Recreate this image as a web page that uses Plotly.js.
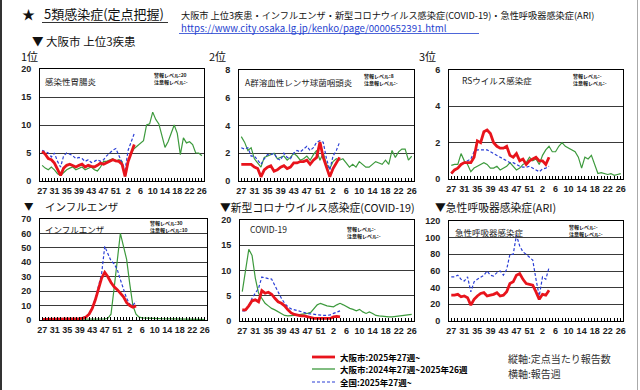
<!DOCTYPE html>
<html><head><meta charset="utf-8">
<script src="https://cdn.plot.ly/plotly-3.0.1.min.js"></script>
<style>html,body{margin:0;padding:0;background:#fff}#chart{width:640px;height:390px}</style>
</head><body><div id="chart"></div>
<script>
// ---- categories ----
const weeks = ['27','28','29','30','31','32','33','34','35','36','37','38','39','40','41','42','43','44','45','46','47','48','49','50','51','52','53',
               '1','2','3','4','5','6','7','8','9','10','11','12','13','14','15','16','17','18','19','20','21','22','23','24','25','26'];
const tickLabels = ['27','31','35','39','43','47','51','2','6','10','14','18','22','26'];

// ---- 1位 感染性胃腸炎 ----
const gastroOsaka2025 = [5.3,4.8,4.0,3.8,3.2, 2.0,1.0,2.3,2.8,3.0, 2.8,2.5,2.8,3.0,2.5, 2.8,2.6,2.5,2.8,3.2, 3.0,3.3,3.5,3.8,3.6, 3.5,3.0,0.8,3.5,5.0, 6.5];
const gastroOsaka2024 = [2.8,2.3,2.0,2.5,2.0, 1.3,1.0,1.5,2.0,2.3, 2.5,2.0,2.3,2.5,2.0, 2.2,2.5,2.0,1.8,2.5, 3.5,3.5,3.8,4.0,3.5, 3.8,3.5,0.8,3.5,5.0, 5.8,6.3,6.8,7.2,10.0, 10.2,12.3,11.0,10.2,8.0, 6.0,7.0,8.5,10.0,8.5, 4.7,7.7,6.8,7.0,6.5, 5.0,5.0,4.5];
const gastroJapan2025 = [5.5,5.3,5.0,4.3,5.0, 3.5,2.5,4.5,5.0,4.8, 4.5,4.0,4.2,4.0,3.5, 3.8,3.3,3.5,3.8,3.5, 3.8,4.5,5.0,5.5,5.8, 4.5,3.5,2.0,5.5,7.0, 8.5];

// ---- 2位 A群溶血性レンサ球菌咽頭炎 ----
const strepOsaka2025 = [1.2,1.2,1.2,1.2,1.0, 0.9,0.3,0.8,1.0,1.1, 0.7,0.8,1.0,1.1,0.9, 1.0,1.3,1.3,1.4,1.4, 1.5,1.2,1.5,1.7,2.8, 1.7,1.0,0.3,0.9,1.3, 1.7];
const strepOsaka2024 = [3.2,2.8,2.2,2.4,1.6, 1.3,1.0,1.7,1.8,1.9, 2.0,1.6,1.7,1.8,1.5, 1.7,2.0,1.8,1.5,1.6, 1.8,1.5,1.9,2.2,1.5, 2.0,1.2,0.9,1.4,1.6, 1.5,1.6,1.3,1.0,1.2, 1.0,1.4,1.2,1.0,1.0, 1.2,1.4,1.3,1.2,1.5, 1.2,2.2,1.7,2.1,2.3, 2.3,1.5,1.8];
const strepJapan2025 = [2.4,2.3,2.4,1.8,1.8, 1.5,1.2,1.6,1.9,1.9, 2.0,1.6,1.5,2.0,1.7, 1.6,2.0,2.2,2.1,2.3, 2.5,2.2,2.4,2.8,2.9, 2.8,1.6,0.8,1.8,2.2, 2.8];

// ---- 3位 RSウイルス感染症 ----
const rsOsaka2025 = [0.3,0.5,0.6,0.8,0.9, 0.9,0.9,1.2,2.1,2.0, 2.6,2.7,2.5,2.0,1.8, 1.7,1.7,1.8,1.3,1.2, 1.4,1.0,1.1,0.8,1.0, 1.1,1.2,1.0,1.0,0.8, 1.2];
const rsOsaka2024 = [0.75,0.8,0.8,1.4,1.0, 0.8,0.4,0.6,0.7,0.8, 0.9,0.8,0.6,0.6,0.7, 0.5,0.6,0.7,0.9,0.7, 0.5,0.6,0.8,0.9,1.2, 1.0,1.1,0.8,1.3,1.6, 1.8,1.5,1.5,1.8,2.0, 1.8,1.7,1.6,1.5,1.2, 0.6,1.2,1.1,1.3,0.8, 0.3,0.35,0.3,0.25,0.3, 0.2,0.25,0.3];
const rsJapan2025 = [0.3,0.5,0.6,0.8,0.9, 1.0,1.1,1.5,1.6,1.6, 1.6,1.6,1.5,1.4,1.3, 1.2,1.1,1.0,0.9,0.9, 0.8,0.7,0.65,0.65,0.7, 0.6,0.5,0.4,0.55,0.6, 0.7];

// ---- インフルエンザ ----
const fluOsaka2025 = [0.5,0.5,0.5,0.5,0.5, 0.5,0.5,0.5,0.6,0.6, 0.7,0.8,1.0,1.3,2.0, 4.0,8.0,14.0,22.0,29.0, 33.0,30.0,26.0,23.0,21.0, 18.5,16.0,12.0,10.0,8.8, 9.8];
const fluOsaka2024 = [0.3,0.3,0.3,0.3,0.3, 0.3,0.3,0.3,0.3,0.3, 0.3,0.3,0.3,0.3,0.3, 0.4,0.4,0.5,0.5,0.6, 0.8,1.2,4.0,22.0,42.0, 60.0,51.0,42.0,25.0,10.0, 4.0,2.0,1.5,1.3,1.2, 1.1,1.0,1.0,0.9,0.9, 0.8,0.8,0.7,0.7,0.6, 0.6,0.5,0.5,0.5,0.4, 0.4,0.4,0.3];
const fluJapan2025 = [0.5,0.5,0.5,0.5,0.5, 0.5,0.5,0.6,0.6,0.7, 0.8,0.9,1.1,1.5,2.3, 4.5,8.5,15.0,23.0,32.0, 51.0,46.0,41.0,39.0,35.0, 28.0,21.0,15.0,11.0,10.0, 13.0];

// ---- 新型コロナウイルス感染症(COVID-19) ----
const covidOsaka2025 = [2.2,2.2,3.0,4.0,4.2, 3.8,6.0,5.5,5.7,5.3, 4.5,3.8,3.5,3.0,2.2, 1.6,1.3,1.1,1.0,1.0, 0.8,0.6,0.5,0.5,0.5, 0.5,0.6,0.5,0.8,0.9, 0.8];
const covidOsaka2024 = [5.8,10.0,14.2,13.0,8.5, 5.5,4.5,3.5,3.0,2.5, 2.2,1.8,1.4,1.1,1.0, 1.0,1.1,1.2,1.3,1.3, 1.5,1.7,2.5,3.2,3.5, 3.2,3.0,2.9,2.8,3.2, 3.5,3.2,2.8,2.5,2.3, 2.0,2.3,1.8,1.5,1.8, 1.5,1.1,1.0,0.9,0.8, 0.8,0.8,0.9,1.0,1.0, 1.1,1.2,1.3];
const covidJapan2025 = [2.0,2.0,3.0,4.5,5.5, 6.5,8.7,8.5,8.4,8.3, 7.0,5.5,4.5,3.5,2.8, 2.4,2.2,2.0,1.8,1.6, 1.5,1.4,1.3,1.3,1.2, 1.1,1.1,1.2,1.5,1.7, 2.0];

// ---- 急性呼吸器感染症(ARI) ----
const ariOsaka2025 = [31,31,32,29,30, 28,19,26,30,33, 34,30,31,32,34, 30,31,35,45,47, 55,57,50,45,44, 43,35,26,32,31, 37];
const ariJapan2025 = [53,53,55,50,48, 53,35,47,50,52, 55,60,55,54,58, 60,55,62,80,80, 103,90,83,80,76, 73,50,30,53,50, 64];

// ---- texts ----
const panelNames = ['感染性胃腸炎','A群溶血性レンサ球菌咽頭炎','RSウイルス感染症','インフルエンザ','COVID-19','急性呼吸器感染症'];
const alertTexts = ['警報レベル:20<br>注意報レベル:-','警報レベル:8<br>注意報レベル:-','警報レベル:-<br>注意報レベル:-',
                    '警報レベル:30<br>注意報レベル:10','警報レベル:-<br>注意報レベル:-','警報レベル:-<br>注意報レベル:-'];
const legendNames = ['大阪市:2025年27週~','大阪市:2024年27週~2025年26週','全国:2025年27週~'];

// ---- layout helpers ----
const W = 640, H = 390;
const px = x => x / W, py = y => 1 - y / H;
const JP = '"Noto Sans CJK JP", "Noto Sans", sans-serif';
const NUM = '"Liberation Sans", Arial, sans-serif';
const RED = '#e8141c', GREEN = '#3d9a3d', BLUE = '#2b3fd6';

const panels = [
  {box:[40,69,204,181],  ymax:20,  dtick:5,  red:gastroOsaka2025, green:gastroOsaka2024, blue:gastroJapan2025, name:[43,81], alert:[152,79]},
  {box:[239,70,414,181], ymax:8,   dtick:2,  red:strepOsaka2025,  green:strepOsaka2024,  blue:strepJapan2025,  name:[243,82], alert:[362,80]},
  {box:[449,70,623,179], ymax:6,   dtick:2,  red:rsOsaka2025,     green:rsOsaka2024,     blue:rsJapan2025,     name:[460,80], alert:[571,80]},
  {box:[40,219,207,320], ymax:70,  dtick:10, red:fluOsaka2025,    green:fluOsaka2024,    blue:fluJapan2025,    name:[43,229], alert:[148,226]},
  {box:[240,220,414,321],ymax:20,  dtick:5,  red:covidOsaka2025,  green:covidOsaka2024,  blue:covidJapan2025,  name:[248,229], alert:[345,232]},
  {box:[449,221,623,321],ymax:120, dtick:20, red:ariOsaka2025,    green:null,            blue:ariJapan2025,    name:[453,232], alert:[567,230]}
];

const layout = {
  width: W, height: H, autosize: false,
  margin: {l:0, r:0, t:0, b:0, pad:0},
  paper_bgcolor: '#fff', plot_bgcolor: '#fff',
  showlegend: false,
  annotations: [], shapes: []
};
const traces = [];
const tickText = weeks.map(w => tickLabels.includes(w) ? w : '');

panels.forEach((p, i) => {
  const n = i + 1;
  const xa = 'xaxis' + (n === 1 ? '' : n), ya = 'yaxis' + (n === 1 ? '' : n);
  const xr = 'x' + (n === 1 ? '' : n), yr = 'y' + (n === 1 ? '' : n);
  const [x0, y0, x1, y1] = p.box;
  layout[xa] = {
    domain: [px(x0), px(x1)], anchor: yr, type: 'category',
    categoryorder: 'array', categoryarray: weeks, range: [-0.7, 52.7],
    tickmode: 'array', tickvals: weeks, ticktext: tickText,
    ticks: 'inside', ticklen: 3, tickwidth: 1, tickcolor: '#000',
    showline: true, linecolor: '#000', linewidth: 1, mirror: true,
    showgrid: false, zeroline: false, fixedrange: true, ticklabelstandoff: 1,
    tickfont: {family: NUM, size: 9, color: '#222', weight: 'bold'}
  };
  layout[ya] = {
    domain: [py(y1), py(y0)], anchor: xr, range: [0, p.ymax],
    tickmode: 'linear', tick0: 0, dtick: p.dtick,
    showgrid: true, gridcolor: '#3a3a3a', gridwidth: 1,
    showline: true, linecolor: '#000', linewidth: 1, mirror: true,
    zeroline: false, ticks: '', fixedrange: true, ticklabelstandoff: 6,
    tickfont: {family: NUM, size: 9, color: '#222', weight: 'bold'}
  };
  if (p.green) traces.push({x: weeks.slice(0, p.green.length), y: p.green, xaxis: xr, yaxis: yr, mode: 'lines',
    line: {color: GREEN, width: 1.2}, hoverinfo: 'skip'});
  traces.push({x: weeks.slice(0, p.blue.length), y: p.blue, xaxis: xr, yaxis: yr, mode: 'lines',
    line: {color: BLUE, width: 1.2, dash: '3px,2px'}, hoverinfo: 'skip'});
  traces.push({x: weeks.slice(0, p.red.length), y: p.red, xaxis: xr, yaxis: yr, mode: 'lines',
    line: {color: RED, width: 2.8}, hoverinfo: 'skip'});
  layout.annotations.push({xref:'paper', yref:'paper', x: px(p.name[0]), y: py(p.name[1]), xanchor:'left', yanchor:'middle',
    text: panelNames[i], showarrow:false, font:{family: JP, size: 8.5, color:'#222'}});
  layout.annotations.push({xref:'paper', yref:'paper', x: px(p.alert[0]), y: py(p.alert[1]), xanchor:'left', yanchor:'middle',
    text: alertTexts[i], showarrow:false, align:'left', font:{family: JP, size: 5, color:'#111', weight:'bold'}});
});

function txt(x, y, text, size, opts) {
  layout.annotations.push(Object.assign({xref:'paper', yref:'paper', x: px(x), y: py(y), xanchor:'left', yanchor:'middle',
    text: text, showarrow:false, font:{family: JP, size: size, color:'#111'}}, opts || {}));
}
// header
txt(28, 14, '★', 13, {xanchor:'center'});
txt(42, 14, '5類感染症(定点把握)', 13);
txt(179, 15, '大阪市 上位3疾患・インフルエンザ・新型コロナウイルス感染症(COVID-19)・急性呼吸器感染症(ARI)', 9.2);
txt(179, 28, 'https://www.city.osaka.lg.jp/kenko/page/0000652391.html', 9.7, {font:{family: JP, size: 9.7, color:'#1f3fcf'}});
txt(30, 41, '▼ 大阪市 上位3疾患', 11.5);
txt(19, 56, '1位', 11);
txt(207, 56, '2位', 11);
txt(417, 56, '3位', 11);
txt(29, 206, '▼', 9.5, {xanchor:'center'});
txt(43, 206, 'インフルエンザ', 10.5);
txt(218, 207, '▼新型コロナウイルス感染症(COVID-19)', 10.8);
txt(433, 207, '▼急性呼吸器感染症(ARI)', 10.8);
// legend
const legY = [357, 369, 382];
txt(338, legY[0], legendNames[0], 8.5, {font:{family: JP, size: 8.5, color:'#000', weight:'bold'}});
txt(338, legY[1], legendNames[1], 8.5, {font:{family: JP, size: 8.5, color:'#000', weight:'bold'}});
txt(338, legY[2], legendNames[2], 8.5, {font:{family: JP, size: 8.5, color:'#000', weight:'bold'}});
txt(506, 358, '縦軸:定点当たり報告数', 10, {font:{family: JP, size: 10, color:'#333'}});
txt(506, 373, '横軸:報告週', 10, {font:{family: JP, size: 10, color:'#333'}});

function line(x0, y0, x1, y1, color, width, dash) {
  layout.shapes.push({type:'line', xref:'paper', yref:'paper', x0: px(x0), y0: py(y0), x1: px(x1), y1: py(y1),
    line:{color: color, width: width, dash: dash || 'solid'}});
}
line(312, legY[0], 335, legY[0], RED, 2.8);
line(312, legY[1], 335, legY[1], GREEN, 1.3);
line(312, legY[2], 335, legY[2], BLUE, 1.2, '3px,2px');
// underlines
line(42, 22.5, 168, 22.5, '#333', 1);
line(179, 33.5, 479, 33.5, '#1f3fcf', 0.8);
// frame
line(1, 0, 1, 390, '#333', 2);
line(637.5, 0, 637.5, 390, '#aaa', 1);

Plotly.newPlot('chart', traces, layout, {staticPlot: true, displayModeBar: false});
</script>
</body></html>
